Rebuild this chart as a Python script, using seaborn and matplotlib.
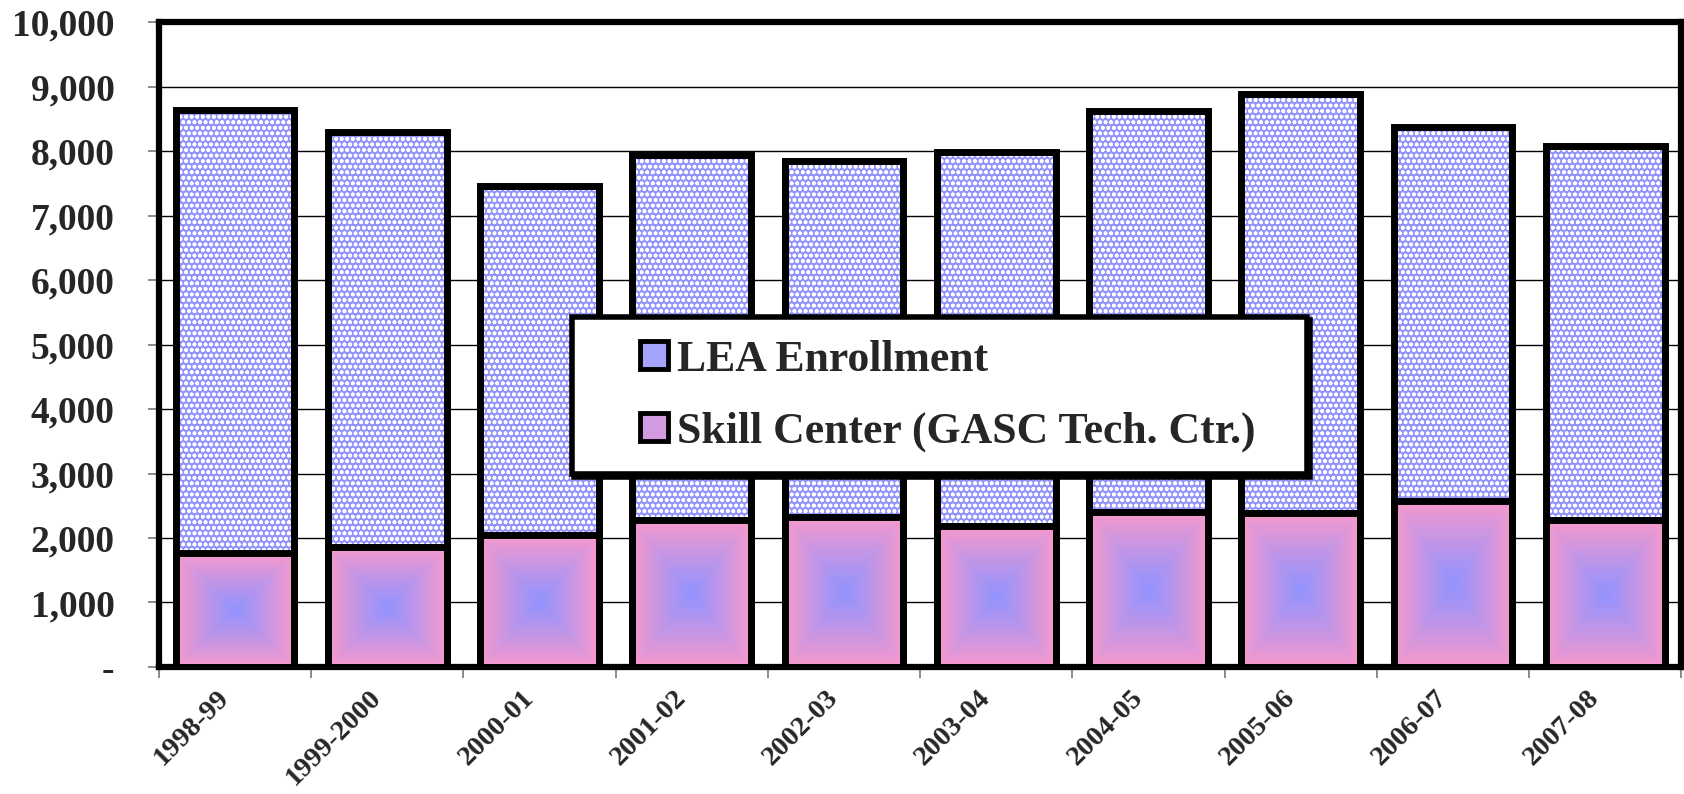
import numpy as np
import pandas as pd
import matplotlib
matplotlib.use("Agg")
import matplotlib.pyplot as plt
import seaborn as sns
from matplotlib.patches import Patch, Rectangle
from matplotlib.legend_handler import HandlerPatch
from matplotlib.colors import to_rgb

# ---------------- data ----------------
years = ["1998-99", "1999-2000", "2000-01", "2001-02", "2002-03",
         "2003-04", "2004-05", "2005-06", "2006-07", "2007-08"]
skill_center = [1760, 1865, 2045, 2280, 2330, 2180, 2405, 2395, 2580, 2280]
lea_enrollment = [6880, 6435, 5415, 5665, 5525, 5805, 6225, 6490, 5790, 5805]
y_ticks = [0, 1000, 2000, 3000, 4000, 5000, 6000, 7000, 8000, 9000, 10000]
y_tick_labels = ["-", "1,000", "2,000", "3,000", "4,000", "5,000",
                 "6,000", "7,000", "8,000", "9,000", "10,000"]
series_labels = ["LEA Enrollment", "Skill Center (GASC Tech. Ctr.)"]

# ---------------- style ----------------
sns.set_theme(style="white")
plt.rcParams["font.family"] = ["Liberation Serif", "DejaVu Serif"]
plt.rcParams["font.weight"] = "bold"
plt.rcParams["hatch.linewidth"] = 1.1

LEA_C = "#9494fd"
PINK = "#f899cc"
BLUE = "#9393fe"
W = 0.78
LW = 5

df = pd.DataFrame({"year": years, "skill": skill_center, "lea": lea_enrollment})
df["total"] = df["skill"] + df["lea"]

fig = plt.figure(figsize=(16.84, 7.94), dpi=100)
ax = fig.add_axes([0.0944, 0.160, 0.904, 0.812])

# layer 1: LEA pattern (full stack height)
sns.barplot(data=df, x="year", y="total", color=LEA_C, saturation=1,
            width=W, linewidth=0, ax=ax, zorder=2)
n0 = len(ax.patches)
for p in ax.patches[:n0]:
    p.set_hatch("ooo")
    p.set_edgecolor("white")
    p.set_linewidth(0)
    if hasattr(p, "set_hatchcolor"):
        p.set_hatchcolor("white")

# layer 2: skill center bars with rectangular gradient
sns.barplot(data=df, x="year", y="skill", color=PINK, saturation=1,
            width=W, linewidth=0, ax=ax, zorder=3)
skill_patches = ax.patches[n0:]
u = np.linspace(-1, 1, 200)
UU, VV = np.meshgrid(u, u)
t = np.clip(np.maximum(np.abs(UU), np.abs(VV)), 0, 1) ** 1.1
pink = np.array(to_rgb(PINK)); blue = np.array(to_rgb(BLUE))
grad = blue[None, None, :] * (1 - t[..., None]) + pink[None, None, :] * t[..., None]
for p in skill_patches:
    x0, w, h = p.get_x(), p.get_width(), p.get_height()
    ax.imshow(grad, extent=[x0, x0 + w, 0, h], aspect="auto",
              interpolation="bilinear", zorder=3.5)

# layer 3: outlines
sns.barplot(data=df, x="year", y="total", color="black", fill=False,
            width=W, linewidth=LW, ax=ax, zorder=4)
sns.barplot(data=df, x="year", y="skill", color="black", fill=False,
            width=W, linewidth=LW, ax=ax, zorder=4)

# ---------------- axes ----------------
ax.set_xlim(-0.5, len(years) - 0.5)
ax.set_ylim(0, 10000)
ax.set_xlabel("")
ax.set_ylabel("")
ax.set_yticks(y_ticks)
ax.set_yticklabels(y_tick_labels, fontsize=27, fontweight="bold")
# label anchors sit slightly left of the bar centres (rotated labels)
ax.set_xticks(np.arange(len(years)) - 0.12)
ax.set_xticklabels(years, rotation=45, ha="right", rotation_mode="anchor",
                   fontsize=20.5, fontweight="bold")
ax.set_xticks(np.arange(-0.5, len(years), 1), minor=True)
ax.tick_params(axis="x", which="major", length=0, pad=13)
ax.tick_params(axis="x", which="minor", bottom=True, length=8, width=1.2,
               color="#777777", direction="out")
ax.tick_params(axis="y", which="major", left=True, length=8, width=1.2,
               color="#777777", direction="out", pad=24)

ax.yaxis.grid(True, color="black", linewidth=1.0)
ax.set_axisbelow(True)
for s in ax.spines.values():
    s.set_visible(True)
    s.set_color("black")
    s.set_linewidth(4.5)

# ---------------- legend ----------------
def right_square(legend, orig_handle, xdescent, ydescent, width, height, fontsize):
    return Rectangle((-xdescent + width - height, -ydescent), height, height)

handles = [
    Patch(facecolor="#a4a4ff", edgecolor="black", linewidth=3.5, label=series_labels[0]),
    Patch(facecolor="#d29be0", edgecolor="black", linewidth=3.5, label=series_labels[1]),
]
leg = ax.legend(handles=handles, loc="center", mode="expand",
                bbox_to_anchor=(0.271, 0.301, 0.483, 0.24), borderaxespad=0,
                fontsize=31.5, frameon=True, fancybox=False, edgecolor="black",
                framealpha=1, handlelength=1.68, handleheight=0.6,
                handletextpad=0.2, labelspacing=0.72, borderpad=0.52,
                handler_map={Patch: HandlerPatch(patch_func=right_square)},
                shadow={"color": "black", "alpha": 1})
leg.get_frame().set_linewidth(4)
leg.set_zorder(10)
for txt in leg.get_texts():
    txt.set_fontweight("bold")

fig.savefig("out.png", dpi=100)
